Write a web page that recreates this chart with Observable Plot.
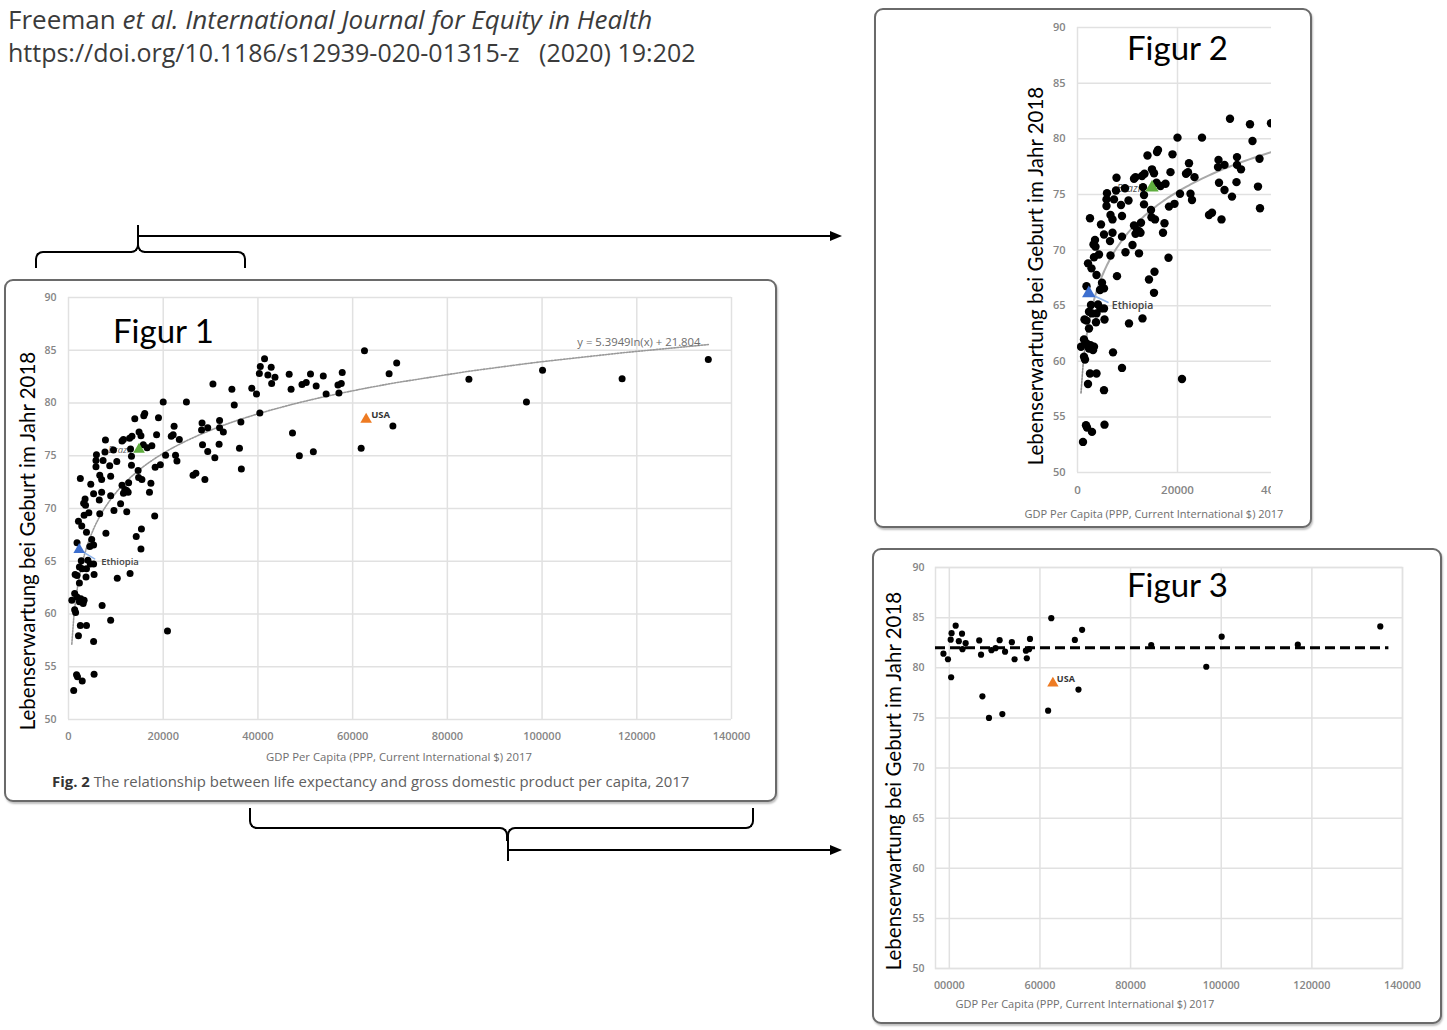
<!DOCTYPE html>
<html>
<head>
<meta charset="utf-8">
<script src="https://cdn.jsdelivr.net/npm/d3@7"></script>
<script src="https://cdn.jsdelivr.net/npm/@observablehq/plot@0.6"></script>
<style>
  html, body { margin: 0; padding: 0; background: #fff; }
  #page { position: relative; width: 1447px; height: 1030px; overflow: hidden; font-family: "Open Sans", sans-serif; }
  .abs { position: absolute; }
  .box { position: absolute; border: 2px solid #6a6a6a; border-radius: 9px; box-shadow: 1px 2px 2px rgba(0,0,0,0.25); background: #fff; }
  .big { position: absolute; font-family: Lato, sans-serif; color: #000; white-space: nowrap; }
  .ylab { position: absolute; font-family: Lato, sans-serif; font-size: 20.5px; color: #000; white-space: nowrap; transform: translate(-50%, -50%) rotate(-90deg); }
  .xlab { position: absolute; font-size: 11px; color: #6e6e6e; white-space: nowrap; transform: translate(-50%, -50%); }
  .ln { position: absolute; border-color: #000; border-style: solid; border-width: 0; box-sizing: border-box; }
</style>
</head>
<body>
<div id="page">
  <div class="abs" style="left:8px;top:1px;font-size:26px;color:#3b3b3b;white-space:nowrap;">Freeman <i>et al. International Journal for Equity in Health</i></div>
  <div class="abs" style="left:8px;top:35px;font-size:25px;color:#3b3b3b;white-space:nowrap;">https://doi.org/10.1186/s12939-020-01315-z&nbsp;&nbsp;&nbsp;(2020) 19:202</div>

  <!-- top bracket + arrow -->
  <div class="ln" style="left:35px;top:251px;width:97px;height:17px;border-left-width:2px;border-top-width:2px;border-top-left-radius:8px;"></div>
  <div class="ln" style="left:144px;top:251px;width:102px;height:17px;border-right-width:2px;border-top-width:2px;border-top-right-radius:8px;"></div>
  <div class="ln" style="left:130px;top:239px;width:9px;height:14px;border-right-width:2px;border-bottom-width:2px;border-bottom-right-radius:8px;"></div>
  <div class="ln" style="left:137px;top:239px;width:9px;height:14px;border-left-width:2px;border-bottom-width:2px;border-bottom-left-radius:8px;"></div>
  <div class="ln" style="left:137px;top:225px;width:2px;height:16px;border-left-width:2px;"></div>
  <div class="ln" style="left:138px;top:235px;width:694px;height:2px;border-top-width:2px;"></div>
  <div class="abs" style="left:830px;top:231px;width:0;height:0;border-left:12px solid #000;border-top:5px solid transparent;border-bottom:5px solid transparent;"></div>

  <!-- bottom bracket + arrow -->
  <div class="ln" style="left:249px;top:808px;width:251px;height:21px;border-left-width:2px;border-bottom-width:2px;border-bottom-left-radius:8px;"></div>
  <div class="ln" style="left:516px;top:808px;width:238px;height:21px;border-right-width:2px;border-bottom-width:2px;border-bottom-right-radius:8px;"></div>
  <div class="ln" style="left:499px;top:827px;width:9px;height:14px;border-right-width:2px;border-top-width:2px;border-top-right-radius:8px;"></div>
  <div class="ln" style="left:507px;top:827px;width:9px;height:14px;border-left-width:2px;border-top-width:2px;border-top-left-radius:8px;"></div>
  <div class="ln" style="left:507px;top:839px;width:2px;height:22px;border-left-width:2px;"></div>
  <div class="ln" style="left:508px;top:849px;width:324px;height:2px;border-top-width:2px;"></div>
  <div class="abs" style="left:830px;top:845px;width:0;height:0;border-left:12px solid #000;border-top:5px solid transparent;border-bottom:5px solid transparent;"></div>

  <!-- boxes -->
  <div class="box" style="left:4px;top:279px;width:769px;height:519px;"></div>
  <div class="box" style="left:874px;top:8px;width:434px;height:516px;"></div>
  <div class="box" style="left:872px;top:548px;width:566px;height:472px;"></div>

  <div id="fig1" class="abs" style="left:0px;top:280px;"></div>
  <div id="fig2" class="abs" style="left:875px;top:9px;"></div>
  <div id="fig3" class="abs" style="left:875px;top:551px;"></div>

  <!-- figure 1 texts -->
  <div class="big" style="left:113px;top:310px;font-size:33px;">Figur 1</div>
  <div class="ylab" style="left:27px;top:541px;">Lebenserwartung bei Geburt im Jahr 2018</div>
  <div class="xlab" style="left:399px;top:756px;font-size:11.3px;">GDP Per Capita (PPP, Current International $) 2017</div>
  <div class="abs" style="left:52px;top:771px;font-size:14.9px;color:#606060;white-space:nowrap;"><b style="color:#333">Fig. 2</b> The relationship between life expectancy and gross domestic product per capita, 2017</div>

  <!-- figure 2 texts -->
  <div class="big" style="left:1127px;top:27px;font-size:33px;">Figur 2</div>
  <div class="ylab" style="left:1035px;top:276px;">Lebenserwartung bei Geburt im Jahr 2018</div>
  <div class="xlab" style="left:1154px;top:513px;">GDP Per Capita (PPP, Current International $) 2017</div>

  <!-- figure 3 texts -->
  <div class="big" style="left:1127px;top:564px;font-size:33px;">Figur 3</div>
  <div class="ylab" style="left:893px;top:781px;">Lebenserwartung bei Geburt im Jahr 2018</div>
  <div class="xlab" style="left:1085px;top:1003px;">GDP Per Capita (PPP, Current International $) 2017</div>
</div>

<script>
// ---------- data ----------
const gdp = [
  30500, 34500, 38700, 35000, 20000, 24900, 16100, 15900, 14000, 19000, 31900, 36400, 28200, 22300, 28100,
  29400, 31900, 32700, 14900, 15300, 18600, 21700, 22100, 23400, 13400, 12900, 11600, 11300, 7800, 15800,
  16600, 17600, 13100, 5900, 7700, 9500, 13300, 20500, 22600, 22900, 28300, 29400, 31800, 30900, 36100,
  36500, 5800, 7300, 5800, 8700, 10200, 13300, 14700, 18300, 19400, 26300, 26900, 28800, 2500, 6600,
  7000, 8900, 4700, 11300, 12700, 14800, 15500, 17400, 11900, 12600, 12300, 11600, 17100, 5300, 7000,
  6500, 8900, 3500, 3600, 3200, 11000, 9600, 12300, 6600, 4300, 3300, 18200, 2100, 2800, 3800,
  7900, 15400, 14300, 1800, 4900, 5300, 4500, 15300, 2700, 4100, 4600, 5300, 2300, 2900, 3800,
  1400, 1800, 3700, 5400, 10300, 13000, 2300, 1300, 1800, 700, 2600, 3300, 3100, 2300, 1300,
  1500, 7100, 8900, 2500, 3800, 2100, 5300, 20900, 1700, 1900, 2900, 5400, 1100,
  39700, 40400, 41400, 40500, 42800, 40300, 42100, 43600, 42900, 46600, 47000, 49300, 50200, 51100, 52300,
  53800, 54400, 56900, 57600, 57800, 57100, 62500, 67700, 69300, 68500, 61800, 47300, 48750, 51700, 84550,
  100100, 96700, 116900, 135100
];
const lifeExp = [
  81.8, 81.3, 81.4, 79.8, 80.1, 80.1, 79.0, 78.8, 78.5, 78.6, 78.35, 78.2, 78.1, 77.8, 77.45,
  77.65, 77.65, 77.25, 77.25, 76.9, 77.0, 76.85, 77.0, 76.55, 76.85, 76.65, 76.55, 76.4, 76.5, 76.05,
  75.75, 75.95, 75.65, 75.1, 75.35, 75.55, 74.95, 75.05, 75.05, 74.5, 76.05, 75.4, 76.1, 74.8, 75.7,
  73.75, 74.55, 74.55, 73.95, 74.05, 74.45, 74.1, 73.6, 73.9, 74.15, 73.15, 73.35, 72.75, 72.85, 73.15,
  72.75, 73.05, 72.3, 72.2, 72.45, 72.95, 72.75, 72.4, 71.8, 71.55, 71.7, 71.45, 71.55, 71.4, 71.55,
  70.8, 71.2, 70.9, 70.3, 70.5, 70.45, 69.8, 69.7, 69.5, 69.6, 69.35, 69.3, 68.8, 68.35, 67.75,
  67.65, 68.05, 67.35, 66.75, 67.05, 66.55, 66.4, 66.15, 65.05, 65.1, 64.75, 64.75, 64.45, 64.3, 64.3,
  63.75, 63.65, 63.5, 63.75, 63.4, 63.85, 62.95, 61.95, 61.6, 61.3, 61.45, 61.3, 61.0, 61.15, 60.4,
  60.15, 60.8, 59.4, 58.9, 58.9, 57.95, 57.4, 58.4, 54.25, 54.05, 53.65, 54.3, 52.75,
  80.85, 79.05, 84.2, 83.45, 83.4, 82.8, 82.65, 82.45, 81.85, 82.73, 81.3, 81.75, 81.95, 82.75, 81.6,
  82.55, 80.85, 81.7, 81.85, 82.88, 80.95, 84.95, 82.78, 83.78, 77.82, 75.72, 77.15, 75.0, 75.38, 82.26,
  83.1, 80.1, 82.3, 84.12
];
const hlCountry = ["Brazil", "Ethiopia", "USA"];
const hlGdp = [14900, 2260, 62850];
const hlLife = [75.6, 66.1, 78.45];
const hlColor = ["#5fae3e", "#3d6fcf", "#ee7b22"];

const yTicks = [50, 55, 60, 65, 70, 75, 80, 85, 90];
const fig1XTicks = [0, 20000, 40000, 60000, 80000, 100000, 120000, 140000];
const fig2XTicks = [0, 20000, 40000];
const fig3XTicks = [40000, 60000, 80000, 100000, 120000, 140000];
const fig3XTickText = ["00000", "60000", "80000", "100000", "120000", "140000"];
const fig2XMax = 38800;
const fig3XMin = 36950;
const fig3Shown = 38000;
const trendSlope = 5.3949, trendIntercept = 21.804;
const trendLabel = "y = 5.3949ln(x) + 21.804";
const meanLife = 82, meanFrom = 36950, meanTo = 137000;

// ---------- tables ----------
const countries = gdp.map((g, i) => ({gdp: g, life: lifeExp[i]}));
const highlights = hlCountry.map((c, i) => ({name: c, gdp: hlGdp[i], life: hlLife[i], color: hlColor[i]}));
const fitted = countries.concat(highlights).map(d => ({gdp: d.gdp, fit: trendSlope * Math.log(d.gdp) + trendIntercept}))
  .sort((a, b) => a.gdp - b.gdp);
const byName = n => highlights.filter(d => d.name === n);
const leader = {draw(context, l) { context.moveTo(0, 0); context.lineTo(0, -l); }};

const gridStyle = {stroke: "#e1e1e1", strokeOpacity: 1, strokeWidth: 1.5};
const tickStyle = {tickSize: 0, fill: "#858585", fontWeight: 600, label: null};

// ---------- Figure 1 ----------
const fig1 = Plot.plot({
  width: 776, height: 520,
  marginLeft: 68, marginRight: 45, marginTop: 17, marginBottom: 81,
  style: {background: "transparent", fontFamily: "'Open Sans', sans-serif"},
  x: {domain: [0, 140000]},
  y: {domain: [50, 90]},
  color: {type: "identity"},
  marks: [
    Plot.gridX(fig1XTicks, gridStyle),
    Plot.gridY(yTicks, gridStyle),
    Plot.axisX(fig1XTicks, {...tickStyle, fontSize: 11, tickPadding: 13, tickFormat: d => String(d)}),
    Plot.axisY(yTicks, {...tickStyle, fontSize: 10.5, tickPadding: 12}),
    Plot.line(fitted, {x: "gdp", y: "fit", stroke: "#9a9a9a", strokeWidth: 1.6, strokeDasharray: "1.6,1.4"}),
    Plot.text([trendLabel], {text: d => d, frameAnchor: "top-right", dx: -31, dy: 40, fill: "#6d6d6d", fontSize: 11.3}),
    Plot.text(byName("Brazil"), {x: "gdp", y: "life", text: "name", textAnchor: "end", dx: -7, dy: 1, fill: "#666", fontSize: 9.5, fontStyle: "italic"}),
    Plot.dot(countries, {x: "gdp", y: "life", r: 3.5, fill: "#000"}),
    Plot.vector(byName("Ethiopia"), {x: "gdp", y: "life", rotate: 121, length: 18, anchor: "start", shape: leader, stroke: "#92b6ea", strokeWidth: 1.6}),
    Plot.dot(highlights, {x: "gdp", y: "life", fill: "color", symbol: "triangle", r: 4.3}),
    Plot.text(byName("Ethiopia"), {x: "gdp", y: "life", text: "name", textAnchor: "start", dx: 22, dy: 12, fill: "#444", fontSize: 9.5, fontWeight: 600}),
    Plot.text(byName("USA"), {x: "gdp", y: "life", text: "name", textAnchor: "start", dx: 5, dy: -4, fill: "#333", fontSize: 9.5, fontWeight: 700})
  ]
});
document.getElementById("fig1").append(fig1);

// ---------- Figure 2 ----------
const fig2 = Plot.plot({
  width: 396, height: 518,
  marginLeft: 202, marginRight: 0, marginTop: 18, marginBottom: 55,
  style: {background: "transparent", fontFamily: "'Open Sans', sans-serif", overflow: "hidden"},
  x: {domain: [0, fig2XMax]},
  y: {domain: [50, 90]},
  color: {type: "identity"},
  marks: [
    Plot.gridX([0, 20000], gridStyle),
    Plot.gridY(yTicks, gridStyle),
    Plot.axisX(fig2XTicks, {...tickStyle, tickPadding: 13, fontSize: 11.5, tickFormat: d => String(d)}),
    Plot.axisY(yTicks, {...tickStyle, tickPadding: 12, fontSize: 11}),
    Plot.line(fitted.filter(d => d.gdp >= 1500), {x: "gdp", y: "fit", stroke: "#a9a9a9", strokeWidth: 2, clip: true}),
    Plot.line(fitted.filter(d => d.gdp <= 1500), {x: "gdp", y: "fit", stroke: "#8d8d8d", strokeWidth: 1.6, strokeDasharray: "2,1.3", clip: true}),
    Plot.text(byName("Brazil"), {x: "gdp", y: "life", text: "name", textAnchor: "end", dx: -9, dy: 1, fill: "#555", fontSize: 10.5, fontStyle: "italic"}),
    Plot.dot(countries, {x: "gdp", y: "life", r: 4.2, fill: "#000", clip: true}),
    Plot.vector(byName("Ethiopia"), {x: "gdp", y: "life", rotate: 115, length: 21, anchor: "start", shape: leader, stroke: "#92b6ea", strokeWidth: 1.8}),
    Plot.dot(highlights, {x: "gdp", y: "life", fill: "color", symbol: "triangle", r: 5, clip: true}),
    Plot.text(byName("Ethiopia"), {x: "gdp", y: "life", text: "name", textAnchor: "start", dx: 23, dy: 12, fill: "#444", fontSize: 10.5, fontWeight: 600})
  ]
});
document.getElementById("fig2").append(fig2);

// ---------- Figure 3 ----------
const fig3 = Plot.plot({
  width: 564, height: 470,
  marginLeft: 60, marginRight: 37, marginTop: 16, marginBottom: 53,
  style: {background: "transparent", fontFamily: "'Open Sans', sans-serif"},
  x: {domain: [fig3XMin, 140000]},
  y: {domain: [50, 90]},
  color: {type: "identity"},
  marks: [
    Plot.frame({stroke: "#e1e1e1", strokeWidth: 1.5}),
    Plot.gridX(fig3XTicks, gridStyle),
    Plot.gridY(yTicks, gridStyle),
    Plot.axisX(fig3XTicks, {...tickStyle, fontSize: 10.8, tickPadding: 13, tickFormat: d => fig3XTickText[fig3XTicks.indexOf(d)]}),
    Plot.axisY(yTicks, {...tickStyle, fontSize: 10.5, tickPadding: 11}),
    Plot.dot(countries.filter(d => d.gdp >= fig3Shown), {x: "gdp", y: "life", r: 3.1, fill: "#000"}),
    Plot.ruleY([meanLife], {x1: meanFrom, x2: meanTo, stroke: "#000", strokeWidth: 3, strokeDasharray: "10,5"}),
    Plot.dot(byName("USA"), {x: "gdp", y: "life", fill: "color", symbol: "triangle", r: 4.2}),
    Plot.text(byName("USA"), {x: "gdp", y: "life", text: "name", textAnchor: "start", dx: 4, dy: -4, fill: "#333", fontSize: 9, fontWeight: 700})
  ]
});
document.getElementById("fig3").append(fig3);
</script>
</body>
</html>
